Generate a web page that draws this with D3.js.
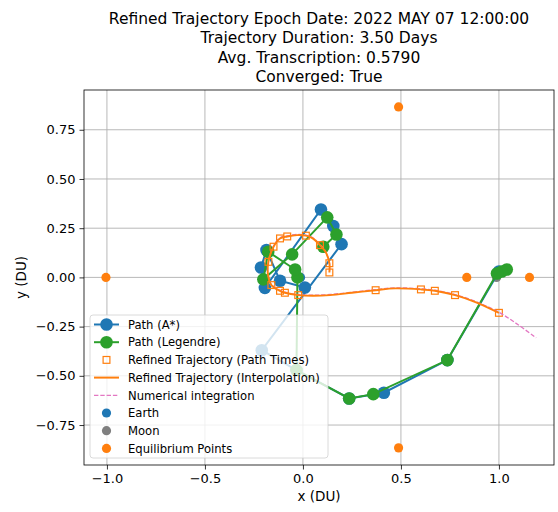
<!DOCTYPE html>
<html>
<head>
<meta charset="utf-8">
<script src="https://cdn.jsdelivr.net/npm/d3@7"></script>
<style>
  body { margin: 0; background: #fff; }
  text { font-family: "DejaVu Sans", sans-serif; }
</style>
</head>
<body>
<script>
var w = 558;
var h = 512;

// ----- data (DU) -----
var titleLines = ["Refined Trajectory Epoch Date: 2022 MAY 07 12:00:00",
                  "Trajectory Duration: 3.50 Days",
                  "Avg. Transcription: 0.5790",
                  "Converged: True"];
var xTicks = [-1.0, -0.5, 0.0, 0.5, 1.0];
var yTicks = [-0.75, -0.5, -0.25, 0.0, 0.25, 0.5, 0.75];

var pathAStar = [[1.0, 0.03], [0.737, -0.42], [0.413, -0.586], [0.236, -0.615], [-0.033, -0.471],
                 [-0.21, -0.37], [0.197, 0.169], [0.155, 0.261], [0.092, 0.345], [-0.194, -0.053],
                 [-0.214, 0.05], [-0.186, 0.139], [-0.117, -0.017], [0.01, -0.051]];
var pathLegendre = [[1.04, 0.04], [1.015, 0.03], [0.99, 0.02], [0.737, -0.42], [0.359, -0.593],
                    [0.236, -0.615], [-0.033, -0.471], [-0.028, 0.0], [-0.04, 0.04], [-0.177, 0.13],
                    [-0.202, -0.01], [-0.055, 0.117], [0.124, 0.305], [0.171, 0.218], [0.104, 0.156]];
var pathTimes = [[0.135, 0.025], [0.135, 0.072], [0.087, 0.164], [0.015, 0.212], [-0.08, 0.208],
                 [-0.117, 0.198], [-0.15, 0.156], [-0.176, 0.079], [-0.161, -0.039], [-0.117, -0.068],
                 [-0.092, -0.078], [-0.024, -0.09], [0.371, -0.065], [0.602, -0.061], [0.673, -0.068],
                 [0.776, -0.09], [1.0, -0.18]];
var interpolation = [[0.135, 0.025], [0.135, 0.072], [0.115, 0.13], [0.087, 0.164], [0.05, 0.198],
                     [0.015, 0.212], [-0.03, 0.215], [-0.08, 0.208], [-0.117, 0.198], [-0.15, 0.156],
                     [-0.176, 0.079], [-0.179, 0.02], [-0.161, -0.039], [-0.117, -0.068], [-0.092, -0.078],
                     [-0.024, -0.09], [0.05, -0.093], [0.138, -0.09], [0.25, -0.078], [0.371, -0.065],
                     [0.47, -0.056], [0.602, -0.061], [0.673, -0.068], [0.776, -0.09], [0.88, -0.125],
                     [1.0, -0.18]];
var integrationTail = [[1.1, -0.245], [1.19, -0.31]];
var earth = [[-0.012, 0.0]];
var moon = [[0.988, 0.0]];
var equilibrium = [[0.836, 0.0], [1.156, 0.0], [-1.005, 0.0], [0.488, 0.866], [0.488, -0.866]];

var legendLabels = ["Path (A*)", "Path (Legendre)", "Refined Trajectory (Path Times)",
                    "Refined Trajectory (Interpolation)", "Numerical integration",
                    "Earth", "Moon", "Equilibrium Points"];

var blue = "#1f77b4", green = "#2ca02c", orange = "#ff7f0e", pink = "#e377c2", gray = "#7f7f7f";

var plotL = 84, plotR = 554, plotT = 90, plotB = 465;
var svg;

drawContent();
function drawContent(){
    svg = d3.select("body")
        .append("svg")
        .attr("width", w)
        .attr("height", h);

    var x = d3.scaleLinear().domain([-1.117, 1.281]).range([plotL, plotR]);
    var y = d3.scaleLinear().domain([-0.953, 0.952]).range([plotB, plotT]);

    //-----title------
    svg.append("g").selectAll("text")
        .data(titleLines)
        .enter().append("text")
        .text(function(d){ return d; })
        .attr("x", (plotL + plotR) / 2)
        .attr("y", function(d, i){ return 24 + i * 19.3; })
        .attr("text-anchor", "middle")
        .attr("font-size", 15.5)
        .attr("fill", "#000");

    //-----grid------
    svg.append("g").selectAll("line")
        .data(xTicks)
        .enter().append("line")
        .attr("x1", function(d){ return x(d); })
        .attr("x2", function(d){ return x(d); })
        .attr("y1", plotT).attr("y2", plotB)
        .attr("stroke", "#b0b0b0").attr("stroke-width", 0.9);
    svg.append("g").selectAll("line")
        .data(yTicks)
        .enter().append("line")
        .attr("y1", function(d){ return y(d); })
        .attr("y2", function(d){ return y(d); })
        .attr("x1", plotL).attr("x2", plotR)
        .attr("stroke", "#b0b0b0").attr("stroke-width", 0.9);

    //-----axes------
    var xAxis = svg.append("g")
        .attr("transform", "translate(0," + plotB + ")")
        .call(d3.axisBottom(x).tickValues(xTicks).tickFormat(d3.format(".1f")).tickSize(4.5).tickPadding(4));
    var yAxis = svg.append("g")
        .attr("transform", "translate(" + plotL + ",0)")
        .call(d3.axisLeft(y).tickValues(yTicks).tickFormat(d3.format(".2f")).tickSize(4.5).tickPadding(4));
    [xAxis, yAxis].forEach(function(a){
        a.select(".domain").remove();
        a.selectAll("text").attr("font-size", 13).attr("fill", "#000")
            .attr("font-family", "DejaVu Sans");
        a.selectAll("line").attr("stroke", "#000").attr("stroke-width", 0.8);
    });

    svg.append("text")
        .text("x (DU)")
        .attr("x", (plotL + plotR) / 2)
        .attr("y", 501)
        .attr("text-anchor", "middle")
        .attr("font-size", 13.5);
    svg.append("text")
        .text("y (DU)")
        .attr("transform", "translate(26," + (plotT + plotB) / 2 + ") rotate(-90)")
        .attr("text-anchor", "middle")
        .attr("font-size", 13.5);

    //-----scatter (below lines)------
    var scatter = function(data, color){
        svg.append("g").selectAll("circle")
            .data(data)
            .enter().append("circle")
            .attr("cx", function(d){ return x(d[0]); })
            .attr("cy", function(d){ return y(d[1]); })
            .attr("r", 4.6)
            .attr("fill", color);
    };
    scatter(earth, blue);
    scatter(moon, gray);
    scatter(equilibrium, orange);

    //-----paths------
    var line = d3.line()
        .x(function(d){ return x(d[0]); })
        .y(function(d){ return y(d[1]); });
    var smooth = d3.line()
        .x(function(d){ return x(d[0]); })
        .y(function(d){ return y(d[1]); })
        .curve(d3.curveCatmullRom);

    var drawPath = function(data, color){
        svg.append("path")
            .attr("d", line(data))
            .attr("fill", "none")
            .attr("stroke", color)
            .attr("stroke-width", 2);
        svg.append("g").selectAll("circle")
            .data(data)
            .enter().append("circle")
            .attr("cx", function(d){ return x(d[0]); })
            .attr("cy", function(d){ return y(d[1]); })
            .attr("r", 6.3)
            .attr("fill", color);
    };
    drawPath(pathAStar, blue);
    drawPath(pathLegendre, green);

    svg.append("g").selectAll("rect")
        .data(pathTimes)
        .enter().append("rect")
        .attr("x", function(d){ return x(d[0]) - 3.4; })
        .attr("y", function(d){ return y(d[1]) - 3.4; })
        .attr("width", 6.8)
        .attr("height", 6.8)
        .attr("fill", "none")
        .attr("stroke", orange)
        .attr("stroke-width", 1.2);

    // numerical integration sits just under the interpolated curve
    svg.append("path")
        .attr("d", smooth(interpolation.concat(integrationTail)))
        .attr("fill", "none")
        .attr("stroke", pink)
        .attr("stroke-width", 1.3)
        .attr("stroke-dasharray", "4.4,1.9")
        .attr("transform", "translate(0,-0.6)");

    svg.append("path")
        .attr("d", smooth(interpolation))
        .attr("fill", "none")
        .attr("stroke", orange)
        .attr("stroke-width", 1.9);

    //-----frame------
    svg.append("rect")
        .attr("x", plotL).attr("y", plotT)
        .attr("width", plotR - plotL).attr("height", plotB - plotT)
        .attr("fill", "none")
        .attr("stroke", "#000")
        .attr("stroke-width", 0.8);

    //-----legend------
    var lx = 90, ly = 315, rowH = 17.7;
    svg.append("rect")
        .attr("x", lx).attr("y", ly)
        .attr("width", 238).attr("height", 143)
        .attr("rx", 3)
        .attr("fill", "rgba(255,255,255,0.8)")
        .attr("stroke", "rgba(204,204,204,0.8)")
        .attr("stroke-width", 0.9);

    var legend = svg.append("g");
    legendLabels.forEach(function(label, i){
        var cy = ly + 9.5 + i * rowH;
        var g = legend.append("g");
        if (i === 0 || i === 1) {
            var c = i === 0 ? blue : green;
            g.append("line").attr("x1", 94).attr("x2", 119).attr("y1", cy).attr("y2", cy)
                .attr("stroke", c).attr("stroke-width", 2);
            g.append("circle").attr("cx", 106.5).attr("cy", cy).attr("r", 6.3).attr("fill", c);
        } else if (i === 2) {
            g.append("rect").attr("x", 103.1).attr("y", cy - 3.4).attr("width", 6.8).attr("height", 6.8)
                .attr("fill", "none").attr("stroke", orange).attr("stroke-width", 1.2);
        } else if (i === 3) {
            g.append("line").attr("x1", 94).attr("x2", 119).attr("y1", cy).attr("y2", cy)
                .attr("stroke", orange).attr("stroke-width", 2);
        } else if (i === 4) {
            g.append("line").attr("x1", 94).attr("x2", 119).attr("y1", cy).attr("y2", cy)
                .attr("stroke", pink).attr("stroke-width", 1.3).attr("stroke-dasharray", "4.4,1.9");
        } else {
            var sc = i === 5 ? blue : (i === 6 ? gray : orange);
            g.append("circle").attr("cx", 106.5).attr("cy", cy).attr("r", 4.6).attr("fill", sc);
        }
        g.append("text")
            .text(label)
            .attr("x", 128)
            .attr("y", cy + 4.2)
            .attr("font-size", 11.6)
            .attr("fill", "#000");
    });
}
</script>
</body>
</html>
